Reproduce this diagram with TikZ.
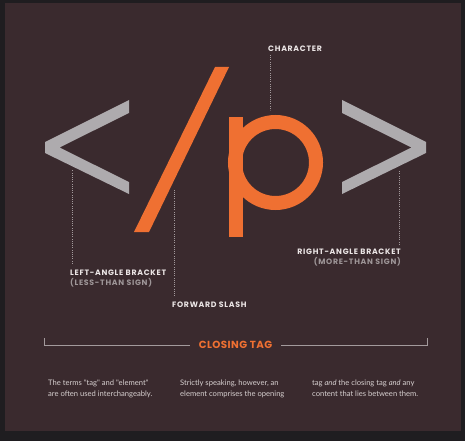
\documentclass[tikz,border=0pt]{standalone}
\usepackage{fontspec}
\usepackage{xcolor}
\usepackage{tikz}
\usetikzlibrary{positioning,calc}
\newfontfamily\labfont[LetterSpace=9]{Poppins}
\newfontfamily\tagfont[LetterSpace=4]{Poppins}
\newfontfamily\txtfont{Lato}
\definecolor{frame}{HTML}{1F1D20}
\definecolor{panel}{HTML}{3A2A2E}
\definecolor{tango}{HTML}{EF7032}
\definecolor{steel}{HTML}{AEABAE}
\definecolor{chalk}{HTML}{ECE6E6}
\definecolor{ash}{HTML}{9E9698}
\definecolor{dots}{HTML}{A39A9C}
\definecolor{body}{HTML}{D6CFCF}

\begin{document}
\begin{tikzpicture}[x=1pt,y=-1pt,
 lb/.style={inner sep=0pt,text=chalk,font=\labfont\bfseries\fontsize{7.8}{10.5}\selectfont},
 tx/.style={inner sep=0pt,anchor=north west,align=left,text=body,font=\txtfont\fontsize{7.6}{11}\selectfont},
 d/.style={draw=dots,line width=.8pt,dash pattern=on .8pt off 1.4pt},
 b/.style={draw=dots,line width=1pt}
]
\useasboundingbox (0,0) rectangle (465,441);
\fill[frame] (0,0) rectangle (465,441);
\fill[panel] (5,3) rectangle (461,431);
% the glyphs
\fill[steel] (129,100) -- (45,142) -- (45,153) -- (129,194) -- (129,182) -- (59.5,147.5) -- (129,113) -- cycle;
\fill[steel] (342,100) -- (426,142) -- (426,153) -- (342,194) -- (342,182) -- (411.5,147.5) -- (342,113) -- cycle;
\fill[tango] (215,67) -- (229,67) -- (149,232) -- (134,232) -- cycle;
\fill[tango] (229,117) rectangle (243,237);
\draw[tango,line width=14pt] (275.5,162.5) circle[radius=40.5];
\coordinate (plt) at (72,170);
\coordinate (psl) at (174,189);
\coordinate (pch) at (270,110);
\coordinate (pgt) at (399,170);
% labels
\node[lb,anchor=west] (chr) at (268,49) {CHARACTER};
\node[lb,anchor=north west,align=left] (lab) at (70,269.5) {LEFT-ANGLE BRACKET\\\color{ash}(LESS-THAN SIGN)};
\node[lb,anchor=west] (fsl) at (172,305) {FORWARD SLASH};
\node[lb,anchor=north east,align=right] (rab) at (401,248.5) {RIGHT-ANGLE BRACKET\\\color{ash}(MORE-THAN SIGN)};
\draw[d] ([xshift=2pt,yshift=-3pt]chr.south west) -- (pch);
\draw[d] ([xshift=2pt,yshift=6pt]lab.north west) -- (plt);
\draw[d] ([xshift=2pt,yshift=6pt]fsl.north west) -- (psl);
\draw[d] ([xshift=-2pt,yshift=4pt]rab.north east) -- (pgt);
% closing tag bracket
\node[inner sep=0pt,text=tango,font=\tagfont\bfseries\fontsize{10.3}{12}\selectfont] (ct) at (235.5,345) {CLOSING TAG};
\coordinate (bl) at (44,338);
\coordinate (br) at (427,338);
\draw[b] ([xshift=-9pt]ct.west) -| (bl);
\draw[b] ([xshift=9pt]ct.east) -| (br);
% notes
\node[tx] (n1) at (48,380) {The terms "tag" and "element"\\are often used interchangeably.};
\node[tx] (n2) at (180,380) {Strictly speaking, however, an\\element comprises the opening};
\node[tx] (n3) at (312,380) {tag \textit{and} the closing tag \textit{and} any\\content that lies between them.};
\end{tikzpicture}
\end{document}
